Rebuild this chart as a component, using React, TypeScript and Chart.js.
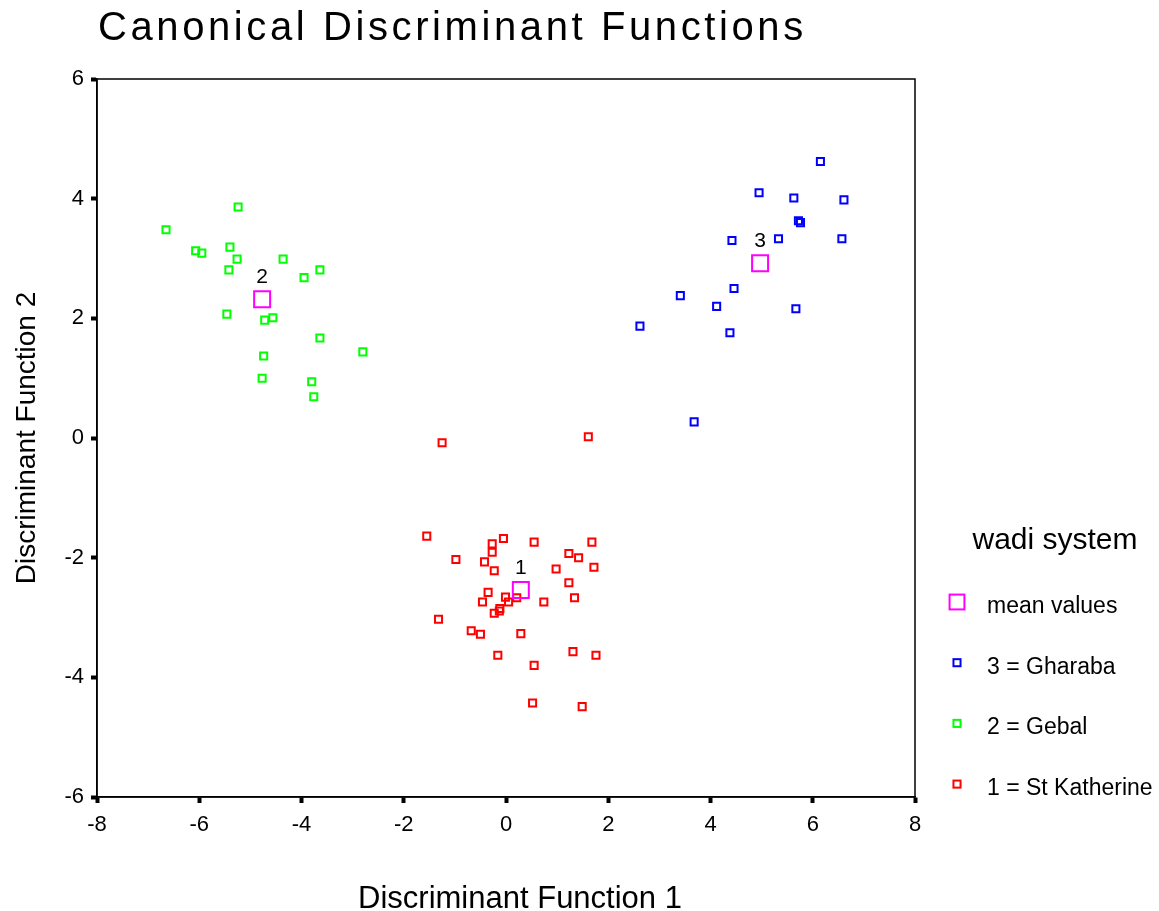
import React, { useEffect, useRef } from 'react';
import { Chart, registerables } from 'chart.js';

Chart.register(...registerables);

const FONT = '"Liberation Sans", Arial, Helvetica, sans-serif';

const chartTitle = 'Canonical Discriminant Functions';
const xAxisTitle = 'Discriminant Function 1';
const yAxisTitle = 'Discriminant Function 2';
const legendTitle = 'wadi system';

const xTickValues = [-8, -6, -4, -2, 0, 2, 4, 6, 8];
const yTickValues = [-6, -4, -2, 0, 2, 4, 6];

const seriesLabels = ['mean values', '3 = Gharaba', '2 = Gebal', '1 = St Katherine'];
const seriesColors = ['#ff00ff', '#0000ff', '#00ff00', '#ff0000'];

// group centroids (function 1, function 2) and their labels
const meanValues: [number, number][] = [
  [0.29, -2.54],
  [-4.77, 2.32],
  [4.97, 2.92],
];
const meanLabels = ['1', '2', '3'];

const gharaba: [number, number][] = [
  [6.15, 4.62], [4.95, 4.10], [5.63, 4.01], [6.61, 3.98], [5.72, 3.63],
  [5.76, 3.60], [4.42, 3.30], [5.33, 3.33], [6.57, 3.33], [4.46, 2.50],
  [3.41, 2.38], [4.12, 2.20], [5.67, 2.16], [2.62, 1.87], [4.38, 1.76],
  [3.68, 0.27],
];

const gebal: [number, number][] = [
  [-6.65, 3.48], [-5.24, 3.86], [-6.07, 3.13], [-5.95, 3.09], [-5.40, 3.19],
  [-5.26, 2.99], [-5.42, 2.81], [-4.36, 2.99], [-3.64, 2.81], [-3.95, 2.68],
  [-5.46, 2.07], [-4.72, 1.97], [-4.56, 2.01], [-3.64, 1.67], [-2.80, 1.44],
  [-4.74, 1.37], [-4.77, 1.00], [-3.80, 0.94], [-3.76, 0.69],
];

const stKatherine: [number, number][] = [
  [-1.25, -0.08], [1.61, 0.02], [-1.55, -1.64], [-0.27, -1.77], [-0.05, -1.68],
  [0.55, -1.74], [1.68, -1.74], [-0.27, -1.91], [1.23, -1.93], [1.42, -2.00],
  [-0.98, -2.03], [-0.42, -2.07], [1.72, -2.16], [0.98, -2.19], [-0.23, -2.22],
  [1.23, -2.42], [-0.35, -2.58], [-0.01, -2.66], [0.21, -2.67], [1.34, -2.67],
  [-0.46, -2.74], [0.05, -2.74], [0.74, -2.74], [-0.12, -2.85], [-0.13, -2.89],
  [-0.23, -2.93], [-1.32, -3.03], [-0.68, -3.22], [-0.50, -3.28], [0.29, -3.27],
  [-0.16, -3.63], [1.31, -3.57], [1.76, -3.63], [0.55, -3.80], [0.52, -4.43],
  [1.49, -4.49],
];

const toPoints = (arr: [number, number][]) => arr.map(([x, y]) => ({ x, y }));

const frameAndTextPlugin = {
  id: 'frameAndText',
  afterDraw(chart: any) {
    const { ctx, chartArea: ca, scales } = chart;
    ctx.save();
    // frame
    ctx.strokeStyle = '#000';
    ctx.lineWidth = 1.5;
    ctx.strokeRect(ca.left, ca.top, ca.right - ca.left, ca.bottom - ca.top);

    // title
    ctx.fillStyle = '#000';
    ctx.font = `40px ${FONT}`;
    ctx.textAlign = 'left';
    ctx.textBaseline = 'alphabetic';
    (ctx as any).letterSpacing = '3.6px';
    ctx.fillText(chartTitle, ca.left + 1, 40);
    (ctx as any).letterSpacing = '0px';

    // x axis title
    ctx.font = `31px ${FONT}`;
    ctx.textAlign = 'center';
    ctx.fillText(xAxisTitle, (ca.left + ca.right) / 2 + 14, 908);

    // mean labels
    ctx.font = `21px ${FONT}`;
    ctx.textAlign = 'center';
    meanValues.forEach(([mx, my], i) => {
      const px = scales.x.getPixelForValue(mx);
      const py = scales.y.getPixelForValue(my);
      ctx.fillText(meanLabels[i], px, py - 16);
    });

    // legend
    ctx.font = `30px ${FONT}`;
    ctx.textAlign = 'center';
    ctx.fillText(legendTitle, ca.right + 140, ca.bottom - 248);
    ctx.font = `23px ${FONT}`;
    ctx.textAlign = 'left';
    chart.data.datasets.forEach((ds: any, i: number) => {
      const cx = ca.right + 42;
      const cy = ca.bottom - 195 + i * 60.7;
      const half = Math.SQRT1_2 * (i === 0 ? 10.5 : ds.pointRadius);
      ctx.strokeStyle = ds.borderColor;
      ctx.lineWidth = ds.borderWidth;
      ctx.strokeRect(cx - half, cy - half, half * 2, half * 2);
      ctx.fillStyle = '#000';
      ctx.fillText(ds.label, ca.right + 72, cy + 11);
    });
    ctx.restore();
  },
};

export default function App() {
  const ref = useRef<HTMLCanvasElement | null>(null);

  useEffect(() => {
    if (!ref.current) return;
    const groups = [meanValues, gharaba, gebal, stKatherine];
    const chart = new Chart(ref.current, {
      type: 'scatter',
      data: {
        datasets: groups.map((g, i) => ({
          label: seriesLabels[i],
          data: toPoints(g),
          pointStyle: 'rect',
          pointRadius: i === 0 ? 11.3 : 5,
          pointHoverRadius: i === 0 ? 11.3 : 5,
          borderWidth: 2,
          borderColor: seriesColors[i],
          backgroundColor: 'rgba(0,0,0,0)',
        })),
      },
      options: {
        responsive: false,
        animation: false,
        devicePixelRatio: 1,
        events: [],
        layout: { padding: { left: 0, top: 79, right: 244, bottom: 0 } },
        plugins: {
          legend: { display: false },
          title: { display: false },
          tooltip: { enabled: false },
        },
        scales: {
          x: {
            type: 'linear',
            min: -8,
            max: 8,
            afterBuildTicks: (s: any) => {
              s.ticks = xTickValues.map((v) => ({ value: v }));
            },
            afterFit: (s: any) => {
              s.height = 114;
            },
            grid: {
              drawOnChartArea: false,
              drawTicks: true,
              tickLength: 6,
              tickWidth: 4,
              tickColor: '#000',
            },
            border: { display: true, color: '#000', width: 1.5 },
            ticks: {
              color: '#000',
              padding: 9,
              font: { family: FONT, size: 22 },
              maxRotation: 0,
            },
            title: { display: false },
          },
          y: {
            type: 'linear',
            min: -6,
            max: 6,
            afterBuildTicks: (s: any) => {
              s.ticks = yTickValues.map((v) => ({ value: v }));
            },
            afterFit: (s: any) => {
              s.width = 97;
            },
            grid: {
              drawOnChartArea: false,
              drawTicks: true,
              tickLength: 6,
              tickWidth: 4,
              tickColor: '#000',
            },
            border: { display: true, color: '#000', width: 1.5 },
            ticks: {
              color: '#000',
              padding: 7,
              font: { family: FONT, size: 22 },
            },
            title: {
              display: true,
              text: yAxisTitle,
              color: '#000',
              font: { family: FONT, size: 28, lineHeight: 0.86 },
              padding: { top: 15, bottom: 0 },
            },
          },
        },
      },
      plugins: [frameAndTextPlugin],
    } as any);
    return () => chart.destroy();
  }, []);

  return (
    <div style={{ position: 'fixed', left: 0, top: 0, width: 1159, height: 911, background: '#fff' }}>
      <canvas ref={ref} width={1159} height={911} style={{ display: 'block' }} />
    </div>
  );
}
